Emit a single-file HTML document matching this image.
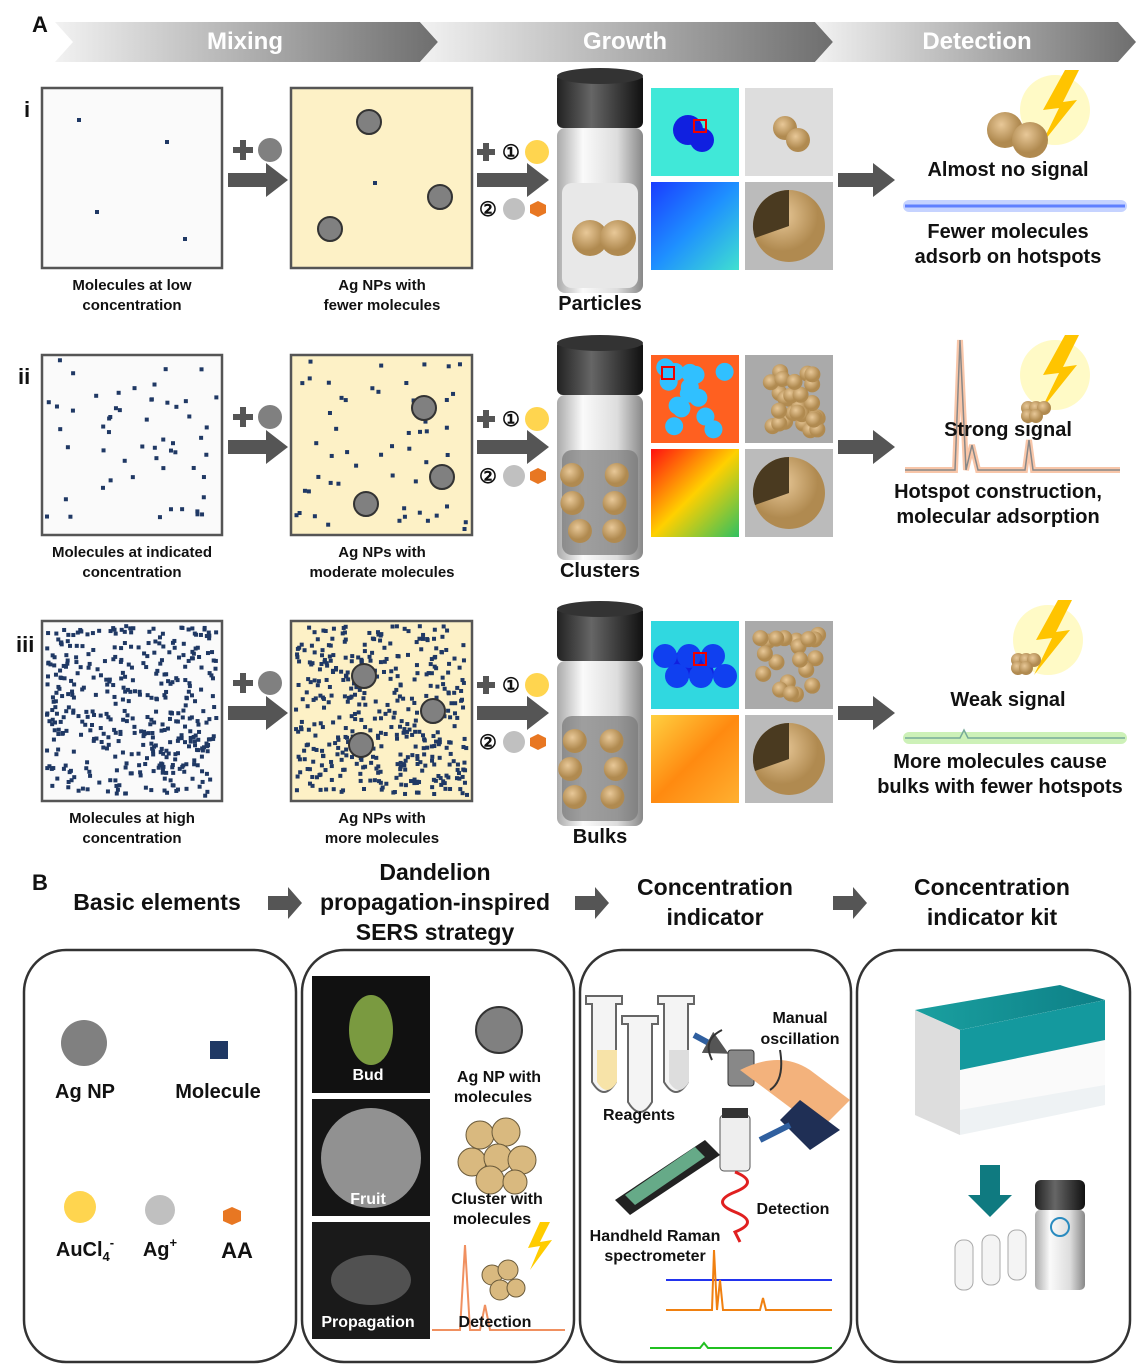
<!DOCTYPE html>
<html><head><meta charset="utf-8"><style>
body{margin:0;background:#fff}
svg{display:block}
text{font-family:"Liberation Sans",Arial,sans-serif;font-weight:bold;fill:#111}
</style></head><body>
<svg id="s" width="1146" height="1366" viewBox="0 0 1146 1366" xmlns="http://www.w3.org/2000/svg">
<defs>
<linearGradient id="chev" x1="0" x2="1"><stop offset="0" stop-color="#f2f2f2"/><stop offset="1" stop-color="#6e6e6e"/></linearGradient>
<linearGradient id="glass" x1="0" x2="1"><stop offset="0" stop-color="#aaa"/><stop offset="0.3" stop-color="#fafafa"/><stop offset="0.7" stop-color="#ddd"/><stop offset="1" stop-color="#888"/></linearGradient>
<linearGradient id="cap" x1="0" x2="1"><stop offset="0" stop-color="#222"/><stop offset="0.4" stop-color="#666"/><stop offset="1" stop-color="#111"/></linearGradient>
<radialGradient id="np" cx="0.4" cy="0.35"><stop offset="0" stop-color="#e8c898"/><stop offset="1" stop-color="#b08a50"/></radialGradient>
<linearGradient id="h1" x1="0" y1="0" x2="1" y2="1"><stop offset="0" stop-color="#1a3cff"/><stop offset="0.5" stop-color="#1e90ff"/><stop offset="1" stop-color="#40e0d0"/></linearGradient>
<linearGradient id="h2" x1="0" y1="0" x2="1" y2="1"><stop offset="0" stop-color="#ff1010"/><stop offset="0.5" stop-color="#ffd000"/><stop offset="1" stop-color="#30c060"/></linearGradient>
<linearGradient id="h3" x1="0" y1="0" x2="1" y2="1"><stop offset="0" stop-color="#ffd040"/><stop offset="0.5" stop-color="#ff8a10"/><stop offset="1" stop-color="#ffb030"/></linearGradient>
<linearGradient id="teal" x1="0" x2="1"><stop offset="0" stop-color="#1aa0a0"/><stop offset="1" stop-color="#0d7f86"/></linearGradient>
<marker id="ah" markerWidth="4" markerHeight="4" refX="2" refY="2" orient="auto"><path d="M0,0L4,2L0,4z" fill="#555"/></marker>
</defs>
<!-- banner -->
<polygon points="55,22 420,22 438,42 420,62 55,62 73,42" fill="url(#chev)"/>
<polygon points="420,22 815,22 833,42 815,62 420,62 438,42" fill="url(#chev)"/>
<polygon points="815,22 1118,22 1136,42 1118,62 815,62 833,42" fill="url(#chev)"/>
<text x="245" y="49" font-size="24" text-anchor="middle" style="fill:#fff">Mixing</text>
<text x="625" y="49" font-size="24" text-anchor="middle" style="fill:#fff">Growth</text>
<text x="977" y="49" font-size="24" text-anchor="middle" style="fill:#fff">Detection</text>
<text x="32" y="32" font-size="22">A</text>
<text x="24" y="117" font-size="22">i</text>
<text x="18" y="384" font-size="22">ii</text>
<text x="16" y="652" font-size="22">iii</text>
<g id="rows"></g>
<!-- detection texts -->
<text x="1008" y="176" font-size="20" text-anchor="middle">Almost no signal</text>
<rect x="903" y="200" width="224" height="12" rx="6" fill="#b8c8ff" opacity="0.8"/>
<line x1="905" y1="206" x2="1125" y2="206" stroke="#6080ff" stroke-width="3"/>
<text x="1008" y="238" font-size="20" text-anchor="middle">Fewer molecules</text>
<text x="1008" y="263" font-size="20" text-anchor="middle">adsorb on hotspots</text>
<path d="M905,470 L955,470 960,340 966,470 972,445 978,470 1025,470 1029,440 1033,470 1120,470" fill="none" stroke="#f4a070" stroke-width="6" opacity="0.6"/>
<path d="M905,470 L955,470 960,340 966,470 972,445 978,470 1025,470 1029,440 1033,470 1120,470" fill="none" stroke="#888" stroke-width="1.5"/>
<text x="1008" y="436" font-size="20" text-anchor="middle">Strong signal</text>
<text x="998" y="498" font-size="20" text-anchor="middle">Hotspot construction,</text>
<text x="998" y="523" font-size="20" text-anchor="middle">molecular adsorption</text>
<text x="1008" y="706" font-size="20" text-anchor="middle">Weak signal</text>
<rect x="903" y="732" width="224" height="12" rx="6" fill="#c8f0b0" opacity="0.9"/>
<path d="M905,738 L960,738 964,730 968,738 1125,738" fill="none" stroke="#7a9" stroke-width="1.5"/>
<text x="1000" y="768" font-size="20" text-anchor="middle">More molecules cause</text>
<text x="1000" y="793" font-size="20" text-anchor="middle">bulks with fewer hotspots</text>
<!-- lightning + spheres -->
<g id="bolts"></g>
<!-- B -->
<text x="32" y="890" font-size="22">B</text>
<text x="157" y="910" font-size="23" text-anchor="middle">Basic elements</text>
<text x="435" y="880" font-size="23" text-anchor="middle">Dandelion</text>
<text x="435" y="910" font-size="23" text-anchor="middle">propagation-inspired</text>
<text x="435" y="940" font-size="23" text-anchor="middle">SERS strategy</text>
<text x="715" y="895" font-size="23" text-anchor="middle">Concentration</text>
<text x="715" y="925" font-size="23" text-anchor="middle">indicator</text>
<text x="992" y="895" font-size="23" text-anchor="middle">Concentration</text>
<text x="992" y="925" font-size="23" text-anchor="middle">indicator kit</text>
<g fill="#555"><path d="M268,896h20v-9l14,16-14,16v-9h-20z"/><path d="M575,896h20v-9l14,16-14,16v-9h-20z"/><path d="M833,896h20v-9l14,16-14,16v-9h-20z"/></g>
<g fill="none" stroke="#333" stroke-width="2.5">
<rect x="24" y="950" width="272" height="412" rx="42"/>
<rect x="302" y="950" width="272" height="412" rx="42"/>
<rect x="580" y="950" width="271" height="412" rx="42"/>
<rect x="857" y="950" width="273" height="412" rx="42"/>
</g>
<!-- panel1 -->
<circle cx="84" cy="1043" r="23" fill="#808080"/>
<text x="85" y="1098" font-size="20" text-anchor="middle">Ag NP</text>
<rect x="210" y="1041" width="18" height="18" fill="#1f3864"/>
<text x="218" y="1098" font-size="20" text-anchor="middle">Molecule</text>
<circle cx="80" cy="1207" r="16" fill="#ffd54f"/>
<text x="85" y="1256" font-size="20" text-anchor="middle">AuCl<tspan font-size="13" dy="5">4</tspan><tspan font-size="13" dy="-14">-</tspan></text>
<circle cx="160" cy="1210" r="15" fill="#c0c0c0"/>
<text x="160" y="1256" font-size="20" text-anchor="middle">Ag<tspan font-size="13" dy="-9">+</tspan></text>
<polygon points="232,1207 241,1211 241,1221 232,1225 223,1221 223,1211" fill="#e87722"/>
<text x="237" y="1258" font-size="22" text-anchor="middle">AA</text>
<!-- panel2 -->
<rect x="312" y="976" width="118" height="117" fill="#111"/>
<ellipse cx="371" cy="1030" rx="22" ry="35" fill="#7a9a40"/>
<rect x="312" y="1099" width="118" height="117" fill="#151515"/>
<circle cx="371" cy="1158" r="50" fill="#bbb" opacity="0.75"/>
<rect x="312" y="1222" width="118" height="117" fill="#1a1a1a"/>
<ellipse cx="371" cy="1280" rx="40" ry="25" fill="#777" opacity="0.6"/>
<text x="368" y="1080" font-size="16" text-anchor="middle" style="fill:#fff">Bud</text>
<text x="368" y="1204" font-size="16" text-anchor="middle" style="fill:#fff">Fruit</text>
<text x="368" y="1327" font-size="16" text-anchor="middle" style="fill:#fff">Propagation</text>
<circle cx="499" cy="1030" r="23" fill="#808080" stroke="#333" stroke-width="2"/>
<text x="499" y="1082" font-size="16" text-anchor="middle">Ag NP with</text>
<text x="493" y="1102" font-size="16" text-anchor="middle">molecules</text>
<g fill="#d9b97f" stroke="#6a5a3a"><circle cx="480" cy="1135" r="14"/><circle cx="506" cy="1132" r="14"/><circle cx="472" cy="1162" r="14"/><circle cx="498" cy="1158" r="14"/><circle cx="522" cy="1160" r="14"/><circle cx="490" cy="1180" r="14"/><circle cx="515" cy="1182" r="12"/></g>
<text x="497" y="1204" font-size="16" text-anchor="middle">Cluster with</text>
<text x="492" y="1224" font-size="16" text-anchor="middle">molecules</text>
<path d="M432,1330 L460,1330 465,1245 470,1330 480,1330 485,1305 490,1330 565,1330" fill="none" stroke="#f09060" stroke-width="2"/>
<g fill="#d9b97f" stroke="#6a5a3a"><circle cx="492" cy="1275" r="10"/><circle cx="508" cy="1270" r="10"/><circle cx="500" cy="1290" r="10"/><circle cx="516" cy="1288" r="9"/></g>
<polygon points="540,1222 528,1248 540,1246 530,1270 552,1240 540,1242 550,1222" fill="#ffcc00"/>
<text x="495" y="1327" font-size="16" text-anchor="middle">Detection</text>
<!-- panel3 -->
<g fill="#f4f4f4" stroke="#666" stroke-width="2">
<path d="M586,996h36v8h-6v78q-12,20-24,0v-78h-6z"/>
<path d="M622,1016h36v8h-6v78q-12,20-24,0v-78h-6z"/>
<path d="M658,996h36v8h-6v78q-12,20-24,0v-78h-6z"/>
</g>
<path d="M597,1050v32q10,16,20,0v-32z" fill="#f7e3a8"/>
<path d="M669,1050v32q10,16,20,0v-32z" fill="#ddd"/>
<path d="M694,1035 L718,1048" stroke="#2f5f9f" stroke-width="6" marker-end="url(#ah)"/>
<rect x="728" y="1050" width="26" height="36" rx="3" fill="#888" stroke="#333"/>
<path d="M740,1070 q40,-20 70,0 l40,30 -30,30 -40,-30z" fill="#f3b27c"/>
<path d="M800,1100 l40,30 -30,20 -30,-30z" fill="#1f2f55"/>
<path d="M712,1060 q-10,-20 10,-30 M770,1090 q15,-10 10,-40" fill="none" stroke="#333" stroke-width="2"/>
<text x="800" y="1023" font-size="16" text-anchor="middle">Manual</text>
<text x="800" y="1044" font-size="16" text-anchor="middle">oscillation</text>
<text x="639" y="1120" font-size="16" text-anchor="middle">Reagents</text>
<path d="M790,1125 L760,1140" stroke="#2f5f9f" stroke-width="6"/>
<rect x="720" y="1115" width="30" height="56" rx="4" fill="#eee" stroke="#555"/>
<rect x="722" y="1108" width="26" height="10" fill="#333"/>
<path d="M615,1200 l90,-60 15,15 -90,60z" fill="#222"/>
<path d="M625,1195 l70,-48 10,10 -70,48z" fill="#6a8"/>
<path d="M735,1172 q25,10 0,20 q-25,10 0,20 q25,10 0,20 l5,10" fill="none" stroke="#e02020" stroke-width="3"/>
<text x="793" y="1214" font-size="16" text-anchor="middle">Detection</text>
<text x="655" y="1241" font-size="16" text-anchor="middle">Handheld Raman</text>
<text x="655" y="1261" font-size="16" text-anchor="middle">spectrometer</text>
<line x1="666" y1="1280" x2="832" y2="1280" stroke="#2233ee" stroke-width="2"/>
<path d="M666,1310 L712,1310 714,1250 717,1310 720,1280 723,1310 760,1310 763,1298 766,1310 832,1310" fill="none" stroke="#f08010" stroke-width="2"/>
<path d="M650,1348 L700,1348 704,1343 708,1348 832,1348" fill="none" stroke="#20c020" stroke-width="2"/>
<!-- panel4 -->
<polygon points="915,1010 1060,985 1105,1000 1105,1105 960,1135 915,1115" fill="#eef2f4"/>
<polygon points="915,1010 1060,985 1105,1000 960,1030" fill="url(#teal)"/>
<polygon points="960,1030 1105,1000 1105,1085 960,1110" fill="#fafafa"/>
<polygon points="960,1030 1105,1000 1105,1040 960,1070" fill="#14999e"/>
<polygon points="915,1010 960,1030 960,1135 915,1115" fill="#ddd"/>
<path d="M980,1165h20v30h12l-22,22-22-22h12z" fill="#0f7a80"/>
<rect x="1035" y="1180" width="50" height="30" rx="6" fill="url(#cap)"/>
<rect x="1035" y="1210" width="50" height="80" rx="5" fill="url(#glass)"/>
<circle cx="1060" cy="1227" r="9" fill="none" stroke="#2a8bbf" stroke-width="2"/>
<g fill="#f4f4f4" stroke="#aaa"><rect x="955" y="1240" width="18" height="50" rx="8"/><rect x="982" y="1235" width="18" height="50" rx="8"/><rect x="1008" y="1230" width="18" height="50" rx="8"/></g>
</svg>
<script>
var s=document.getElementById('rows'),NS='http://www.w3.org/2000/svg',seed=7;
function r(){seed=(seed*16807)%2147483647;return seed/2147483647;}
function el(t,a,p){var e=document.createElementNS(NS,t);for(var k in a)e.setAttribute(k,a[k]);(p||s).appendChild(e);return e;}
function txt(x,y,str,fs){var e=el('text',{x:x,y:y,'font-size':fs,'text-anchor':'middle'});e.textContent=str;}
var Y=[88,355,621],N=[0,55,420],
L1=[["Molecules  at low","concentration"],["Molecules  at indicated","concentration"],["Molecules  at high","concentration"]],
L2=[["Ag NPs with","fewer molecules"],["Ag NPs with","moderate molecules"],["Ag NPs with","more molecules"]],
V=["Particles","Clusters","Bulks"],H=["url(#h1)","url(#h2)","url(#h3)"],
NPS=[[[369,122],[440,197],[330,229]],[[424,408],[442,477],[366,504]],[[364,676],[433,711],[361,745]]];
for(var i=0;i<3;i++){var y=Y[i];
el('rect',{x:42,y:y,width:180,height:180,fill:'#fafafa',stroke:'#555','stroke-width':2.5});
el('rect',{x:291,y:y,width:181,height:180,fill:'#fdf1c6',stroke:'#555','stroke-width':2.5});
var pts=i==0?[[79,120],[167,142],[97,212],[185,239]]:[];
for(var k=0;k<N[i];k++)pts.push([47+r()*170,y+5+r()*170]);
pts.forEach(function(p){el('rect',{x:p[0]-2,y:p[1]-2,width:4,height:4,fill:'#1f3864'});});
var p2=i==0?[[375,183]]:[];for(var k=0;k<N[i];k++)p2.push([296+r()*171,y+5+r()*170]);
p2.forEach(function(p){el('rect',{x:p[0]-2,y:p[1]-2,width:4,height:4,fill:'#1f3864'});});
NPS[i].forEach(function(c){el('circle',{cx:c[0],cy:c[1],r:12,fill:'#808080',stroke:'#333','stroke-width':2});});
txt(132,y+202,L1[i][0],15);txt(132,y+222,L1[i][1],15);
txt(382,y+202,L2[i][0],15);txt(382,y+222,L2[i][1],15);
// plus circle arrow
el('path',{d:'M233,'+(y+62)+'h20M243,'+(y+52)+'v20',stroke:'#555','stroke-width':6});
el('circle',{cx:270,cy:y+62,r:12,fill:'#808080'});
el('path',{d:'M228,'+(y+85)+'h38v-10l22,17-22,17v-10h-38z',fill:'#555'});
el('path',{d:'M477,'+(y+64)+'h18M486,'+(y+55)+'v18',stroke:'#555','stroke-width':6});
txt(511,y+71,'\u2460',20);el('circle',{cx:537,cy:y+64,r:12,fill:'#ffd54f'});
el('path',{d:'M477,'+(y+85)+'h50v-10l22,17-22,17v-10h-50z',fill:'#555'});
txt(488,y+128,'\u2461',20);el('circle',{cx:514,cy:y+121,r:11,fill:'#c0c0c0'});
var hy=y+121;el('polygon',{points:'538,'+(hy-8)+' 546,'+(hy-4)+' 546,'+(hy+4)+' 538,'+(hy+8)+' 530,'+(hy+4)+' 530,'+(hy-4),fill:'#e87722'});
// vial
el('rect',{x:557,y:y+40,width:86,height:165,rx:8,fill:'url(#glass)'});
el('rect',{x:562,y:y+95,width:76,height:105,rx:10,fill:i==0?'#e8e8e8':'#777',opacity:i==0?1:0.7});
el('rect',{x:557,y:y-15,width:86,height:55,rx:6,fill:'url(#cap)'});
el('ellipse',{cx:600,cy:y-12,rx:43,ry:8,fill:'#333'});
for(var k=0;k<(i==0?2:6);k++){var cx=i==0?590+k*28:570+(k%2)*40+r()*10,cy=i==0?y+150:y+120+Math.floor(k/2)*28;
el('circle',{cx:cx,cy:cy,r:i==0?18:12,fill:'url(#np)'});}
txt(600,y+222,V[i],20);
// images
var c1=i==0?'#40e8d8':(i==1?'#ff6020':'#30d8e0');
el('rect',{x:651,y:y,width:88,height:88,fill:c1});
if(i==1){for(var k=0;k<14;k++)el('circle',{cx:665+r()*60,cy:y+12+r()*64,r:9,fill:'#30c0ff'});}
else{el('circle',{cx:688,cy:y+42,r:15,fill:'#1020e0'});el('circle',{cx:702,cy:y+52,r:12,fill:'#1020e0'});
if(i==2){for(var k=0;k<6;k++)el('circle',{cx:665+k*12,cy:y+35+(k%2)*20,r:12,fill:'#1040f0'});}}
el('rect',{x:i==1?662:694,y:y+(i==1?12:32),width:12,height:12,fill:'none',stroke:'#e00','stroke-width':2});
el('rect',{x:651,y:y+94,width:88,height:88,fill:H[i]});
el('rect',{x:745,y:y,width:88,height:88,fill:i==0?'#ddd':'#aaa'});
if(i==0){el('circle',{cx:785,cy:y+40,r:12,fill:'url(#np)'});el('circle',{cx:798,cy:y+52,r:12,fill:'url(#np)'});}
else{for(var k=0;k<(i==1?30:20);k++)el('circle',{cx:758+r()*62,cy:y+12+r()*64,r:8,fill:'url(#np)'});}
el('rect',{x:745,y:y+94,width:88,height:88,fill:'#bbb'});
el('circle',{cx:789,cy:y+138,r:36,fill:'url(#np)'});
el('path',{d:'M789,'+(y+138)+'L789,'+(y+102)+'A36,36 0 0 0 755,'+(y+150)+'z',fill:'#4a3a20'});
el('path',{d:'M838,'+(y+85)+'h35v-10l22,17-22,17v-10h-35z',fill:'#555'});
}
var b=document.getElementById('bolts');
[[1055,70,1008,130],[1055,335,1028,408],[1048,600,1018,660]].forEach(function(q,i){
el('circle',{cx:q[0],cy:q[1]+40,r:35,fill:'#fff6a0',opacity:0.6},b);
el('polygon',{points:(q[0]+10)+','+q[1]+' '+(q[0]-12)+','+(q[1]+40)+' '+(q[0]+4)+','+(q[1]+38)+' '+(q[0]-14)+','+(q[1]+75)+' '+(q[0]+22)+','+(q[1]+30)+' '+(q[0]+8)+','+(q[1]+32)+' '+(q[0]+24)+','+q[1],fill:'#ffc400'},b);
if(i==0){el('circle',{cx:1005,cy:130,r:18,fill:'url(#np)'},b);el('circle',{cx:1030,cy:140,r:18,fill:'url(#np)'},b);}
else{for(var k=0;k<5;k++)el('circle',{cx:q[2]+(k%3)*8,cy:q[3]+Math.floor(k/3)*8,r:7,fill:'url(#np)'},b);}
});
</script>
</body></html>
